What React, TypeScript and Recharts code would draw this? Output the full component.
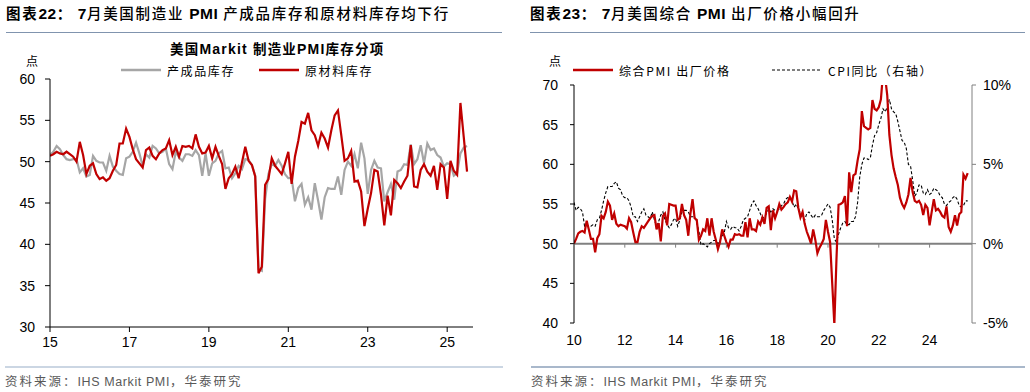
import React from "react";
import { LineChart, Line, XAxis, YAxis, ReferenceLine } from "recharts";

// ---- chart 22: US Markit manufacturing PMI inventory sub-indices (monthly from Jan 2015)
const INV_START = 2015;
const finishedGoods = [
  50.8, 51.2, 51.9, 51.5, 50.8, 50.3, 50.2, 50.3, 50.3, 48.7,
  49.2, 48.2, 48.4, 50.7, 50.1, 49.9, 49.9, 48.9, 50.7, 49.4,
  48.9, 48.5, 48.4, 50.4, 50.6, 51.2, 52.3, 51.0, 49.5, 50.9,
  50.5, 51.9, 51.6, 51.0, 51.2, 51.6, 49.7, 49.1, 51.2, 50.5,
  50.1, 50.9, 50.9, 50.7, 51.4, 50.8, 48.3, 51.0, 48.3, 49.8,
  50.1, 51.0, 51.3, 49.2, 49.3, 48.0, 48.6, 49.5, 49.1, 50.3,
  50.2, 49.6, 48.3, 37.0, 36.8, 45.5, 48.5, 49.7, 49.5, 50.2,
  49.5, 48.5, 48.0, 48.0, 45.2, 46.8, 47.3, 44.8, 45.7, 44.2,
  47.4, 45.3, 43.0, 45.7, 46.8, 46.7, 46.7, 48.2, 46.0, 49.0,
  50.0, 49.5, 50.9, 49.2, 52.3, 50.4, 46.1, 49.0, 50.1, 49.3,
  49.2, 45.2, 46.3, 47.3, 45.4, 48.8, 49.0, 49.7, 49.6, 52.1,
  49.7, 50.3, 52.0, 49.8, 52.2, 51.4, 51.6, 50.8, 50.5, 49.4,
  49.8, 49.7, 48.3, 48.6, 51.0, 51.7, 51.9,
];
const rawMaterials = [
  50.7, 50.9, 51.2, 51.0, 50.9, 51.2, 50.9, 50.6, 50.0, 52.4,
  50.8, 48.5, 49.5, 49.8, 48.5, 47.9, 48.1, 47.7, 48.0, 48.9,
  49.6, 52.2, 52.2, 54.0, 53.0, 51.5, 50.3, 49.8, 49.3, 51.4,
  51.7, 50.7, 50.3, 51.0, 51.4, 51.6, 52.6, 50.8, 51.8, 50.6,
  51.9, 51.8, 51.9, 51.6, 53.3, 51.8, 51.0, 51.1, 51.9, 50.4,
  51.8, 50.7, 49.7, 46.7, 48.0, 48.5, 49.4, 48.0, 49.9, 51.8,
  50.1, 49.6, 48.2, 36.5, 37.3, 47.2, 47.9, 50.4, 49.5, 49.0,
  48.5, 49.8, 51.2, 47.3, 50.6, 52.5, 54.8, 54.6, 55.9, 53.8,
  53.2, 51.9, 53.5, 52.8, 51.7, 53.8, 55.6, 56.2, 53.2, 50.1,
  50.4, 51.3, 47.6, 47.7, 46.4, 42.2, 44.3, 46.2, 49.0, 48.8,
  46.0, 42.3, 45.9, 43.5, 47.8, 47.4, 46.8, 47.6, 48.3, 52.0,
  47.0, 46.9, 49.0, 49.7, 48.8, 48.3, 49.5, 46.6, 49.7, 49.3,
  45.5, 50.1, 48.9, 48.4, 57.1, 53.0, 48.8,
];
const INV_X_TICKS = [2015, 2017, 2019, 2021, 2023, 2025];
const INV_Y_TICKS = [30, 35, 40, 45, 50, 55, 60];

// ---- chart 23: US composite PMI output prices vs CPI yoy (monthly from Jan 2010)
const PRICE_START = 2010;
const outputPrices = [
  50.0, 50.6, 51.3, 51.5, 51.6, 51.4, 52.9, 51.8, 50.6, 50.6, 48.9, 50.7,
  51.2, 53.5, 53.2, 54.0, 55.3, 54.8, 53.0, 53.8, 52.5, 52.2, 52.4, 52.3,
  52.2, 51.9, 53.2, 52.7, 51.4, 50.2, 50.2, 51.5, 52.2, 52.0, 52.4, 52.8,
  53.2, 53.5, 53.6, 51.8, 52.6, 50.3, 53.5, 53.8, 52.3, 55.0, 54.9, 54.8,
  54.8, 53.0, 53.2, 55.0, 53.6, 53.0, 51.0, 53.8, 55.6, 53.2, 53.0, 50.5,
  51.0, 51.8, 51.6, 53.2, 51.0, 53.2, 51.5, 50.5, 49.3, 50.2, 51.8, 51.0,
  50.2, 49.6, 50.5, 50.5, 51.2, 51.1, 51.2, 51.0, 51.0, 52.7, 50.8, 53.2,
  51.8, 51.8, 51.6, 52.8, 52.4, 53.3, 52.5, 54.5, 54.7, 51.7, 54.2, 53.2,
  54.0, 55.0, 54.3, 54.6, 55.0, 55.2, 55.9, 55.3, 56.7, 56.6, 54.5, 53.3,
  54.0, 52.5, 51.5, 50.8, 50.0, 51.8, 50.5, 48.8, 49.5, 50.0, 50.6, 53.0,
  51.5, 50.2, 45.0, 39.8, 48.0, 54.9, 55.0, 55.2, 56.0, 52.2, 59.0, 56.5,
  58.6, 58.8, 60.5, 61.9, 66.7, 64.8, 64.6, 64.4, 64.6, 68.1, 67.0, 66.8,
  67.2, 68.2, 71.5, 71.0, 68.7, 63.7, 61.2, 59.5, 58.4, 57.4, 55.8, 55.0,
  54.5, 55.2, 56.2, 58.3, 56.5, 55.4, 55.2, 55.4, 54.9, 53.6, 54.9, 54.5,
  52.3, 54.0, 55.6, 54.2, 54.4, 54.0, 53.5, 53.3, 54.7, 52.1, 51.5, 52.3,
  53.6, 52.3, 53.7, 54.0, 58.7, 58.2, 58.9,
];
const cpiYoY = [
  2.6, 2.1, 2.3, 2.2, 2.0, 1.1, 1.2, 1.1, 1.1, 1.2, 1.1, 1.5,
  1.6, 2.1, 2.7, 3.2, 3.6, 3.6, 3.6, 3.8, 3.9, 3.5, 3.4, 3.0,
  2.9, 2.9, 2.7, 2.3, 1.7, 1.7, 1.4, 1.7, 2.0, 2.2, 1.8, 1.7,
  1.6, 2.0, 1.5, 1.1, 1.4, 1.8, 2.0, 1.5, 1.2, 1.0, 1.2, 1.5,
  1.6, 1.1, 1.5, 2.0, 2.1, 2.1, 2.0, 1.7, 1.7, 1.7, 1.3, 0.8,
  -0.1, 0.0, -0.1, -0.2, 0.0, 0.1, 0.2, 0.2, 0.0, 0.2, 0.5, 0.7,
  1.4, 1.0, 0.9, 1.1, 1.0, 1.0, 0.8, 1.1, 1.5, 1.6, 1.7, 2.1,
  2.5, 2.7, 2.4, 2.2, 1.9, 1.6, 1.7, 1.9, 2.2, 2.0, 2.2, 2.1,
  2.1, 2.2, 2.4, 2.5, 2.8, 2.9, 2.9, 2.7, 2.3, 2.5, 2.2, 1.9,
  1.6, 1.5, 1.9, 2.0, 1.8, 1.6, 1.8, 1.7, 1.7, 1.8, 2.1, 2.3,
  2.5, 2.3, 1.5, 0.3, 0.1, 0.6, 1.0, 1.3, 1.4, 1.2, 1.2, 1.4,
  1.4, 1.7, 2.6, 4.2, 5.0, 5.4, 5.4, 5.3, 5.4, 6.2, 6.8, 7.0,
  7.5, 7.9, 8.5, 8.3, 8.6, 9.1, 8.5, 8.3, 8.2, 7.7, 7.1, 6.5,
  6.4, 6.0, 5.0, 4.9, 4.0, 3.0, 3.2, 3.7, 3.7, 3.2, 3.1, 3.4,
  3.1, 3.2, 3.5, 3.4, 3.3, 3.0, 2.9, 2.5, 2.4, 2.6, 2.7, 2.9,
  3.0, 2.8, 2.4, 2.3, 2.4, 2.7, 2.7,
];
const PRICE_X_TICKS = [2010, 2012, 2014, 2016, 2018, 2020, 2022, 2024];
const PRICE_Y_TICKS = [40, 45, 50, 55, 60, 65, 70];
const CPI_TICKS = [-5, 0, 5, 10];

const invData = rawMaterials.map((v, i) => ({
  t: INV_START + i / 12,
  raw: v,
  fin: finishedGoods[i],
}));
const priceData = outputPrices.map((v, i) => ({
  t: PRICE_START + i / 12,
  ppi: v,
  cpi: cpiYoY[i],
}));

const CN = '"Noto Sans CJK SC", "Liberation Sans", sans-serif';
const NUM = '"Liberation Sans", Arial, sans-serif';
const RED = "#c00000";
const GREY = "#a6a6a6";
const TICK = { fill: "#000", fontSize: 14, fontFamily: NUM };

const yearLabel = (v: number) => String(Math.round(v)).slice(2);

// right chart plot box (local px)
const P_TOP = 85;
const P_H = 238;
const LINE50_Y = P_TOP + (P_H * (70 - 50)) / 30;

function PriceTick(props: any) {
  const { x, y, payload } = props;
  return (
    <g>
      <line x1={x} x2={x} y1={LINE50_Y} y2={LINE50_Y + 4} stroke="#808080" strokeWidth={1} />
      <text x={x} y={y} dy="0.71em" textAnchor="middle" fontSize={14} fontFamily={NUM} fill="#000">
        {yearLabel(payload.value)}
      </text>
    </g>
  );
}

const abs = (left: number, top: number, extra: React.CSSProperties = {}): React.CSSProperties => ({
  position: "absolute",
  left,
  top,
  whiteSpace: "nowrap",
  ...extra,
});

function Title({ left, width, num, rest }: { left: number; width: number; num: string; rest: React.ReactNode }) {
  return (
    <>
      <div style={abs(left, 4, { fontFamily: CN, fontSize: 14.5, letterSpacing: 1.7, color: "#000", lineHeight: "18px", fontWeight: 500 })}>
        <span style={{ fontWeight: 700 }}>图表</span>
        <span style={{ fontWeight: 700, fontFamily: NUM, fontSize: 15.5, letterSpacing: 0.5 }}>{num}</span>
        <span style={{ fontWeight: 700 }}>：</span>
        {rest}
      </div>
      <div style={abs(left, 32, { width, height: 1, background: "#8094ae" })} />
    </>
  );
}

const B = ({ children }: { children: React.ReactNode }) => (
  <span style={{ fontFamily: NUM, fontWeight: 700, fontSize: 15.5, letterSpacing: 0.5 }}>{children}</span>
);

function LegendItem({ left, color, dashed, label }: { left: number; color: string; dashed?: boolean; label: string }) {
  const w = dashed ? 50 : 40;
  return (
    <div style={abs(left, 62, { display: "flex", alignItems: "center", height: 16 })}>
      <svg width={w} height={6} style={{ marginRight: 6 }}>
        <line
          x1={0}
          x2={w}
          y1={3}
          y2={3}
          stroke={color}
          strokeWidth={dashed ? 1.2 : 2.5}
          strokeDasharray={dashed ? "3 2" : undefined}
        />
      </svg>
      <span style={{ fontFamily: CN, fontSize: 12, letterSpacing: 1.6, color: "#000" }}>{label}</span>
    </div>
  );
}

const sourceStyle: React.CSSProperties = {
  fontFamily: CN,
  fontSize: 12.5,
  color: "#595959",
  letterSpacing: 2,
  lineHeight: "16px",
};
const latin: React.CSSProperties = { fontFamily: NUM, letterSpacing: 0.6 };

export default function App() {
  return (
    <div style={{ position: "absolute", left: 0, top: 0, width: 1030, height: 392, background: "#fff", overflow: "hidden" }}>
      <Title
        left={6}
        width={496}
        num="22"
        rest={
          <>
            {" "}<B>7</B>月美国制造业 <B>PMI</B> 产成品库存和原材料库存均下行
          </>
        }
      />
      <Title
        left={530}
        width={495}
        num="23"
        rest={
          <>
            {" "}<B>7</B>月美国综合 <B>PMI</B> 出厂价格小幅回升
          </>
        }
      />

      {/* left chart */}
      <div style={abs(0, 0)}>
        <LineChart width={515} height={392} data={invData} margin={{ top: 79, right: 42, bottom: 35, left: 0 }}>
          <XAxis
            dataKey="t"
            type="number"
            domain={[2015, 2025.65]}
            allowDataOverflow
            ticks={INV_X_TICKS}
            interval={0}
            tickFormatter={yearLabel}
            stroke="#000"
            tickSize={5}
            tickMargin={5}
            height={30}
            tick={TICK}
          />
          <YAxis
            domain={[30, 60]}
            allowDataOverflow
            ticks={INV_Y_TICKS}
            interval={0}
            width={50}
            stroke="#000"
            tickSize={5}
            tickMargin={10}
            tick={TICK}
          />
          <Line dataKey="fin" stroke={GREY} strokeWidth={2.2} dot={false} isAnimationActive={false} />
          <Line dataKey="raw" stroke={RED} strokeWidth={2.2} dot={false} isAnimationActive={false} />
        </LineChart>
      </div>
      <div style={abs(170, 40, { fontFamily: CN, fontSize: 13.5, fontWeight: 700, letterSpacing: 1.2, lineHeight: "16px" })}>
        美国<span style={{ fontFamily: NUM, fontSize: 14 }}>Markit </span>制造业<span style={{ fontFamily: NUM, fontSize: 14 }}>PMI</span>库存分项
      </div>
      <div style={abs(26, 54, { fontFamily: CN, fontSize: 12, lineHeight: "14px" })}>点</div>
      <LegendItem left={121} color={GREY} label="产成品库存" />
      <LegendItem left={259} color={RED} label="原材料库存" />

      {/* right chart */}
      <div style={abs(515, 0)}>
        <LineChart width={515} height={392} data={priceData} margin={{ top: P_TOP, right: 8, bottom: 39, left: 0 }}>
          <XAxis
            dataKey="t"
            type="number"
            domain={[2010, 2025.67]}
            allowDataOverflow
            ticks={PRICE_X_TICKS}
            interval={0}
            axisLine={false}
            tickLine={false}
            tickSize={0}
            tickMargin={12}
            height={30}
            tick={<PriceTick />}
          />
          <YAxis
            yAxisId="l"
            domain={[40, 70]}
            allowDataOverflow
            ticks={PRICE_Y_TICKS}
            interval={0}
            width={59}
            stroke="#000"
            tickSize={4}
            tickMargin={12}
            tick={TICK}
          />
          <YAxis
            yAxisId="r"
            orientation="right"
            domain={[-5, 10]}
            allowDataOverflow
            ticks={CPI_TICKS}
            interval={0}
            width={50}
            stroke="#808080"
            tickSize={4}
            tickMargin={7}
            tickFormatter={(v: number) => `${v}%`}
            tick={TICK}
          />
          <ReferenceLine yAxisId="l" y={50} stroke="#808080" strokeWidth={2} />
          <Line
            yAxisId="r"
            dataKey="cpi"
            stroke="#000"
            strokeWidth={1.1}
            strokeDasharray="3 2"
            dot={false}
            isAnimationActive={false}
          />
          <Line yAxisId="l" dataKey="ppi" stroke={RED} strokeWidth={2.2} dot={false} isAnimationActive={false} />
        </LineChart>
      </div>
      <div style={abs(549, 54, { fontFamily: CN, fontSize: 12, lineHeight: "14px" })}>点</div>
      <LegendItem left={573} color={RED} label="综合PMI 出厂价格" />
      <LegendItem left={772} color="#000" dashed label="CPI同比（右轴）" />

      {/* sources */}
      <div style={abs(5, 366, { width: 498, height: 2, background: "#cbd6e3" })} />
      <div style={abs(531, 366, { width: 494, height: 2, background: "#a9b8cb" })} />
      <div style={abs(5, 373, sourceStyle)}>
        资料来源：<span style={latin}>IHS Markit PMI</span>，华泰研究
      </div>
      <div style={abs(531, 373, sourceStyle)}>
        资料来源：<span style={latin}>IHS Markit PMI</span>，华泰研究
      </div>
    </div>
  );
}
